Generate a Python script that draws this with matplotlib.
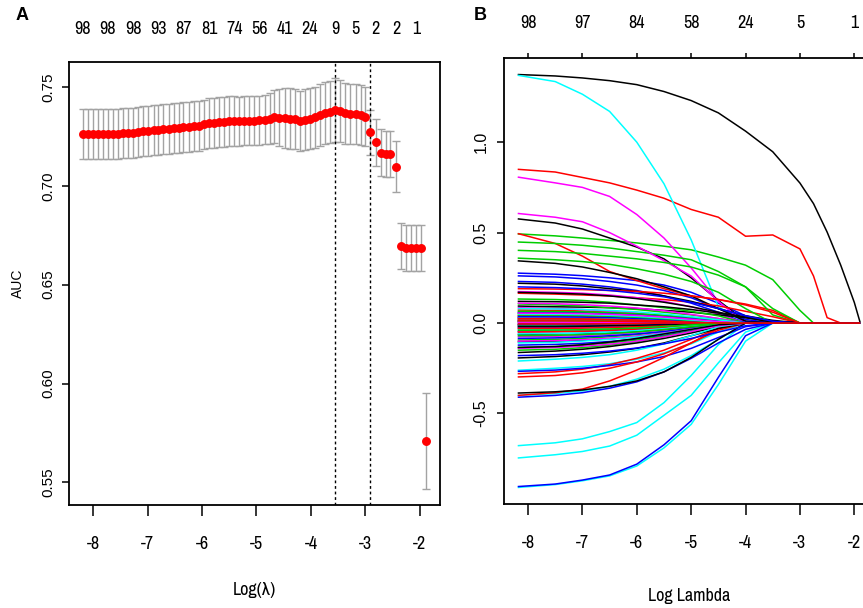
import numpy as np
import matplotlib
matplotlib.use("Agg")
import matplotlib.pyplot as plt

plt.rcParams['axes.unicode_minus'] = False
narrow = ['Archivo Narrow', 'Roboto Condensed', 'Liberation Sans', 'DejaVu Sans']
plain = ['Liberation Sans', 'DejaVu Sans']

# ---- panel A: cross-validated AUC ----
log_lambda = [-8.19, -8.10, -8.00, -7.91, -7.82, -7.73, -7.63, -7.54, -7.45, -7.36,
              -7.26, -7.17, -7.08, -6.99, -6.89, -6.80, -6.71, -6.61, -6.52, -6.43,
              -6.34, -6.24, -6.15, -6.06, -5.97, -5.87, -5.78, -5.69, -5.59, -5.50,
              -5.41, -5.32, -5.22, -5.13, -5.04, -4.95, -4.85, -4.76, -4.67, -4.58,
              -4.48, -4.39, -4.30, -4.20, -4.11, -4.02, -3.93, -3.83, -3.74, -3.65,
              -3.56, -3.46, -3.37, -3.28, -3.18, -3.09, -3.00, -2.91, -2.81, -2.72,
              -2.63, -2.54, -2.44, -2.35, -2.26, -2.17, -2.07, -1.98, -1.89]
auc = [0.7262, 0.7262, 0.7262, 0.7262, 0.7262, 0.7262, 0.7262, 0.7263, 0.7267, 0.7267,
       0.7267, 0.7272, 0.7276, 0.7276, 0.7281, 0.7281, 0.7287, 0.7287, 0.7294, 0.7294,
       0.7296, 0.7298, 0.7304, 0.7304, 0.7310, 0.7316, 0.7316, 0.7321, 0.7321, 0.7326,
       0.7326, 0.7326, 0.7330, 0.7330, 0.7330, 0.7332, 0.7333, 0.7340, 0.7350, 0.7344,
       0.7342, 0.7340, 0.7337, 0.7328, 0.7334, 0.7340, 0.7347, 0.7359, 0.7369, 0.7374,
       0.7383, 0.7376, 0.7367, 0.7364, 0.7364, 0.7359, 0.7350, 0.7270, 0.7219, 0.7168,
       0.7160, 0.7160, 0.7097, 0.6697, 0.6684, 0.6684, 0.6684, 0.6684, 0.5710]
auc_se = [0.0125, 0.0125, 0.0125, 0.0125, 0.0125, 0.0125, 0.0126, 0.0126, 0.0126, 0.0126,
          0.0127, 0.0127, 0.0127, 0.0127, 0.0127, 0.0127, 0.0127, 0.0127, 0.0127, 0.0127,
          0.0127, 0.0127, 0.0127, 0.0126, 0.0126, 0.0126, 0.0126, 0.0126, 0.0126, 0.0126,
          0.0126, 0.0125, 0.0125, 0.0125, 0.0124, 0.0124, 0.0124, 0.0128, 0.0136, 0.0145,
          0.0150, 0.0152, 0.0153, 0.0153, 0.0153, 0.0152, 0.0154, 0.0156, 0.0157, 0.0158,
          0.0160, 0.0157, 0.0155, 0.0153, 0.0152, 0.0151, 0.0150, 0.0112, 0.0119, 0.0117,
          0.0118, 0.0118, 0.0129, 0.0117, 0.0117, 0.0117, 0.0117, 0.0117, 0.0241]
top_idx_a = [0, 5, 10, 15, 20, 25, 30, 35, 40, 45, 50, 54, 58, 62, 66]
top_df_a = ['98', '98', '98', '93', '87', '81', '74', '56', '41', '24', '9', '5', '2', '2', '1']
min_idx, se1_idx = 50, 57

# ---- panel B: coefficient paths (values at knots, zero afterwards) ----
knots = [-8.19, -7.5, -7.0, -6.5, -6.0, -5.5, -5.0, -4.5, -4.0, -3.5, -3.0, -2.75, -2.5, -2.25, -2.0, -1.89]
coef_black = [
    [1.374, 1.366, 1.355, 1.34, 1.318, 1.28, 1.23, 1.162, 1.061, 0.947, 0.774, 0.66, 0.503, 0.32, 0.114, 0],
    [0.576, 0.553, 0.52, 0.47, 0.42, 0.355, 0.25, 0.125, 0.01, 0],
    [0.344, 0.33, 0.31, 0.28, 0.245, 0.2, 0.15, 0.08, 0.01, 0],
    [0.22, 0.215, 0.205, 0.19, 0.175, 0.15, 0.12, 0.08, 0.04, 0.015, 0],
    [0.094, 0.09, 0.088, 0.085, 0.08, 0.07, 0.06, 0.045, 0.03, 0.01, 0],
    [0.054, 0.053, 0.05, 0.046, 0.04, 0.032, 0.02, 0.01, 0],
    [0.03, 0.03, 0.028, 0.025, 0.02, 0.015, 0.008, 0],
    [0.01, 0.01, 0.009, 0.008, 0.006, 0.004, 0],
    [-0.063, -0.06, -0.057, -0.052, -0.045, -0.035, -0.02, 0],
    [-0.104, -0.1, -0.095, -0.087, -0.075, -0.058, -0.035, -0.01, 0],
    [-0.163, -0.155, -0.145, -0.13, -0.11, -0.085, -0.055, -0.02, 0],
    [-0.193, -0.185, -0.175, -0.16, -0.14, -0.11, -0.07, -0.03, 0],
    [-0.387, -0.38, -0.37, -0.35, -0.32, -0.27, -0.19, -0.09, 0],
    [0.12, 0.118, 0.115, 0.11, 0.1, 0.09, 0.075, 0.055, 0.035, 0.01, 0],
    [-0.02, -0.02, -0.018, -0.015, -0.012, -0.008, -0.004, 0],
    [0.17, 0.165, 0.16, 0.15, 0.135, 0.115, 0.09, 0.06, 0.03, 0.005, 0],
    [-0.135, -0.13, -0.12, -0.105, -0.085, -0.06, -0.035, -0.01, 0],
]
coef_red = [
    [0.85, 0.835, 0.805, 0.775, 0.735, 0.69, 0.628, 0.585, 0.48, 0.487, 0.41, 0.26, 0.03, 0],
    [0.495, 0.44, 0.37, 0.285, 0.235, 0.19, 0.15, 0.13, 0.105, 0.07, 0],
    [0.165, 0.16, 0.155, 0.15, 0.14, 0.13, 0.115, 0.095, 0.065, 0.035, 0],
    [0.072, 0.07, 0.067, 0.06, 0.052, 0.04, 0.025, 0.01, 0],
    [-0.011, -0.011, -0.01, -0.009, -0.007, -0.005, -0.002, 0],
    [-0.28, -0.27, -0.255, -0.23, -0.195, -0.15, -0.09, -0.03, 0],
    [-0.298, -0.29, -0.275, -0.25, -0.215, -0.17, -0.11, -0.04, 0],
    [-0.40, -0.385, -0.365, -0.32, -0.26, -0.19, -0.11, -0.03, 0],
    [0.04, 0.04, 0.038, 0.035, 0.03, 0.024, 0.015, 0.006, 0],
    [0.02, 0.02, 0.02, 0.018, 0.015, 0.012, 0.008, 0.003, 0],
    [0.005, 0.005, 0.005, 0.004, 0.003, 0.002, 0],
    [-0.03, -0.03, -0.028, -0.025, -0.02, -0.014, -0.007, 0],
    [0.19, 0.188, 0.185, 0.18, 0.175, 0.165, 0.15, 0.13, 0.1, 0.06, 0],
    [-0.05, -0.048, -0.045, -0.04, -0.033, -0.024, -0.013, 0],
    [0.012, 0.012, 0.011, 0.01, 0.008, 0.005, 0],
    [-0.005, -0.005, -0.005, -0.004, -0.003, 0],
    [0.025, 0.025, 0.023, 0.02, 0.016, 0.01, 0.004, 0],
]
coef_green = [
    [0.493, 0.482, 0.47, 0.457, 0.443, 0.425, 0.405, 0.365, 0.32, 0.24, 0.07, 0],
    [0.448, 0.44, 0.43, 0.415, 0.395, 0.375, 0.35, 0.285, 0.2, 0.045, 0],
    [0.402, 0.395, 0.385, 0.37, 0.355, 0.335, 0.31, 0.265, 0.2, 0.08, 0],
    [0.359, 0.35, 0.34, 0.325, 0.30, 0.27, 0.23, 0.17, 0.08, 0],
    [0.133, 0.13, 0.125, 0.115, 0.10, 0.085, 0.065, 0.04, 0],
    [0.106, 0.10, 0.095, 0.085, 0.075, 0.06, 0.045, 0.025, 0],
    [-0.028, -0.027, -0.025, -0.022, -0.018, -0.012, -0.005, 0],
    [-0.094, -0.09, -0.085, -0.076, -0.064, -0.048, -0.028, -0.008, 0],
    [-0.135, -0.13, -0.122, -0.11, -0.094, -0.072, -0.045, -0.015, 0],
    [-0.15, -0.145, -0.136, -0.122, -0.103, -0.078, -0.048, -0.015, 0],
    [0.015, 0.015, 0.014, 0.012, 0.01, 0.007, 0.003, 0],
    [0.045, 0.044, 0.042, 0.038, 0.032, 0.024, 0.014, 0.004, 0],
    [-0.01, -0.01, -0.009, -0.008, -0.006, -0.003, 0],
    [0.065, 0.064, 0.062, 0.058, 0.052, 0.043, 0.032, 0.018, 0],
    [-0.07, -0.068, -0.064, -0.058, -0.049, -0.036, -0.02, -0.005, 0],
    [-0.04, -0.039, -0.037, -0.033, -0.027, -0.019, -0.01, 0],
]
coef_blue = [
    [0.276, 0.27, 0.262, 0.25, 0.235, 0.21, 0.17, 0.11, 0.04, 0],
    [0.261, 0.255, 0.245, 0.23, 0.21, 0.18, 0.14, 0.08, 0.02, 0],
    [0.23, 0.225, 0.215, 0.2, 0.18, 0.15, 0.11, 0.06, 0],
    [-0.048, -0.047, -0.045, -0.041, -0.035, -0.027, -0.016, -0.005, 0],
    [-0.122, -0.118, -0.112, -0.102, -0.088, -0.068, -0.043, -0.015, 0],
    [-0.267, -0.26, -0.25, -0.235, -0.215, -0.185, -0.14, -0.08, -0.02, 0],
    [-0.41, -0.40, -0.385, -0.36, -0.325, -0.27, -0.195, -0.11, -0.035, 0],
    [-0.904, -0.89, -0.868, -0.84, -0.78, -0.673, -0.54, -0.30, -0.07, 0],
    [0.01, 0.01, 0.009, 0.008, 0.006, 0.004, 0.002, 0],
    [-0.015, -0.015, -0.014, -0.012, -0.01, -0.007, -0.003, 0],
    [0.035, 0.034, 0.033, 0.03, 0.026, 0.02, 0.012, 0.004, 0],
    [-0.085, -0.082, -0.077, -0.07, -0.06, -0.047, -0.03, -0.012, 0],
    [0.06, 0.059, 0.057, 0.053, 0.047, 0.038, 0.027, 0.014, 0.004, 0],
    [-0.18, -0.175, -0.167, -0.155, -0.138, -0.115, -0.085, -0.05, -0.015, 0],
    [-0.005, -0.005, -0.005, -0.004, -0.003, -0.002, 0],
    [0.2, 0.196, 0.19, 0.18, 0.165, 0.145, 0.115, 0.08, 0.04, 0.01, 0],
]
coef_cyan = [
    [1.37, 1.335, 1.265, 1.17, 1.0, 0.77, 0.46, 0.09, 0],
    [-0.261, -0.25, -0.24, -0.225, -0.2, -0.165, -0.115, -0.05, 0],
    [-0.40, -0.39, -0.375, -0.35, -0.31, -0.255, -0.18, -0.09, 0],
    [-0.678, -0.662, -0.64, -0.6, -0.55, -0.44, -0.29, -0.12, 0],
    [-0.746, -0.728, -0.71, -0.68, -0.62, -0.51, -0.40, -0.22, -0.05, 0],
    [-0.909, -0.893, -0.872, -0.845, -0.79, -0.69, -0.56, -0.34, -0.1, 0],
    [0.02, 0.02, 0.019, 0.017, 0.014, 0.01, 0.005, 0],
    [-0.02, -0.02, -0.019, -0.017, -0.014, -0.01, -0.005, 0],
    [0.03, 0.03, 0.029, 0.027, 0.023, 0.018, 0.011, 0.004, 0],
    [-0.035, -0.034, -0.032, -0.029, -0.024, -0.017, -0.009, 0],
    [0.005, 0.005, 0.005, 0.004, 0.003, 0.002, 0],
    [-0.21, -0.2, -0.19, -0.175, -0.15, -0.115, -0.07, -0.02, 0],
    [0.05, 0.049, 0.047, 0.043, 0.037, 0.028, 0.017, 0.006, 0],
    [-0.06, -0.058, -0.055, -0.05, -0.042, -0.031, -0.017, -0.004, 0],
    [0.08, 0.078, 0.075, 0.07, 0.062, 0.05, 0.035, 0.018, 0],
    [-0.11, -0.107, -0.1, -0.09, -0.077, -0.058, -0.035, -0.01, 0],
]
coef_magenta = [
    [0.807, 0.775, 0.75, 0.70, 0.60, 0.47, 0.305, 0.12, 0],
    [0.606, 0.585, 0.56, 0.50, 0.425, 0.345, 0.26, 0.12, 0],
    [0.174, 0.17, 0.165, 0.155, 0.14, 0.12, 0.09, 0.05, 0],
    [0.085, 0.08, 0.075, 0.065, 0.055, 0.04, 0.02, 0],
    [-0.076, -0.073, -0.069, -0.062, -0.052, -0.039, -0.022, -0.006, 0],
    [0.025, 0.025, 0.024, 0.022, 0.018, 0.013, 0.006, 0],
    [-0.008, -0.008, -0.007, -0.006, -0.004, -0.002, 0],
    [0.04, 0.039, 0.037, 0.034, 0.029, 0.022, 0.013, 0.004, 0],
    [-0.025, -0.024, -0.023, -0.02, -0.016, -0.011, -0.005, 0],
    [0.015, 0.015, 0.014, 0.013, 0.01, 0.007, 0.003, 0],
    [-0.045, -0.044, -0.042, -0.038, -0.032, -0.024, -0.013, -0.003, 0],
    [0.11, 0.107, 0.102, 0.094, 0.083, 0.068, 0.048, 0.025, 0],
    [-0.1, -0.097, -0.092, -0.084, -0.072, -0.055, -0.033, -0.01, 0],
    [0.002, 0.002, 0.002, 0.002, 0.001, 0],
    [0.055, 0.054, 0.052, 0.048, 0.042, 0.033, 0.021, 0.008, 0],
    [-0.14, -0.135, -0.128, -0.117, -0.1, -0.077, -0.047, -0.015, 0],
]
top_df_b = ['98', '97', '84', '58', '24', '5', '1']

W, H = 863, 608
fig = plt.figure(figsize=(W / 100, H / 100), dpi=100)


def px_axes(l, t, r, b):
    return fig.add_axes([l / W, 1 - b / H, (r - l) / W, (b - t) / H])


def r_range(vals):
    lo, hi = min(vals), max(vals)
    pad = 0.04 * (hi - lo)
    return lo - pad, hi + pad


def style_box(ax):
    for sp in ax.spines.values():
        sp.set_linewidth(1.3)
        sp.set_color('black')
    ax.tick_params(axis='x', length=8, width=1.1, pad=14, labelsize=13)
    ax.tick_params(axis='y', length=5, width=1.1, pad=5, labelsize=11)
    for t in ax.get_xticklabels():
        t.set_family(narrow)
    for t in ax.get_yticklabels():
        t.set_family(plain)
        t.set_rotation(90)
        t.set_va('center')


# panel A
x = np.array(log_lambda)
m = np.array(auc)
s = np.array(auc_se)
axA = px_axes(69, 62, 439.6, 505)
axA.errorbar(x, m, yerr=s, fmt='none', ecolor='#a3a3a3', elinewidth=1.0,
             capsize=2.8, capthick=1.0)
axA.plot(x, m, 'o', color='red', ms=5.4, mec='red', zorder=3)
for i in (min_idx, se1_idx):
    axA.axvline(x[i], color='black', ls=(0, (2, 2)), lw=1.0)
axA.set_xlim(*r_range(log_lambda))
axA.set_ylim(*r_range(list(m - s) + list(m + s)))
axA.set_xticks(range(-8, -1))
axA.set_xticklabels([str(v) for v in range(-8, -1)])
yt = [0.55, 0.60, 0.65, 0.70, 0.75]
axA.set_yticks(yt)
axA.set_yticklabels(['%.2f' % v for v in yt])
style_box(axA)
topA = axA.secondary_xaxis('top')
topA.set_xticks(x[top_idx_a])
topA.set_xticklabels(top_df_a, family=narrow, fontsize=13)
topA.tick_params(length=0, pad=18)
topA.spines['top'].set_visible(False)

# panel B
axB = px_axes(504, 58, 874, 504)
palette = ['black', '#FF0000', '#00CD00', '#0000FF', '#00FFFF', '#FF00FF']
groups = [coef_black, coef_red, coef_green, coef_blue, coef_cyan, coef_magenta]
all_vals = []
for j in range(max(len(g) for g in groups)):
    for g, col in zip(groups, palette):
        if j < len(g):
            v = g[j] + [0.0] * (len(knots) - len(g[j]))
            all_vals += v
            axB.plot(knots, v, color=col, lw=1.1, solid_capstyle='butt')
axB.set_xlim(*r_range(log_lambda))
axB.set_ylim(*r_range(all_vals))
axB.set_xticks(range(-8, -1))
axB.set_xticklabels([str(v) for v in range(-8, -1)])
ytb = [-0.5, 0.0, 0.5, 1.0]
axB.set_yticks(ytb)
axB.set_yticklabels(['%.1f' % v for v in ytb])
style_box(axB)
axB.tick_params(axis='y', labelsize=11.5, pad=6)
topB = axB.secondary_xaxis('top')
topB.set_xticks(range(-8, -1))
topB.set_xticklabels(top_df_b, family=narrow, fontsize=13)
topB.tick_params(length=3.6, width=1.1, pad=16)
topB.spines['top'].set_visible(False)

fig.text(22 / W, 1 - 15 / H, 'A', family=plain, fontweight='bold', fontsize=13,
         ha='center', va='center')
fig.text(480 / W, 1 - 15 / H, 'B', family=plain, fontweight='bold', fontsize=13,
         ha='center', va='center')
fig.text(18 / W, 1 - 283 / H, 'AUC', family=plain, fontsize=10, rotation=90,
         ha='center', va='center')
fig.text(254 / W, 1 - 590 / H, 'Log(λ)', family=narrow, fontsize=13,
         ha='center', va='center')
fig.text(689 / W, 1 - 596 / H, 'Log Lambda', family=narrow, fontsize=13,
         ha='center', va='center')

fig.savefig('out.png', dpi=100)
